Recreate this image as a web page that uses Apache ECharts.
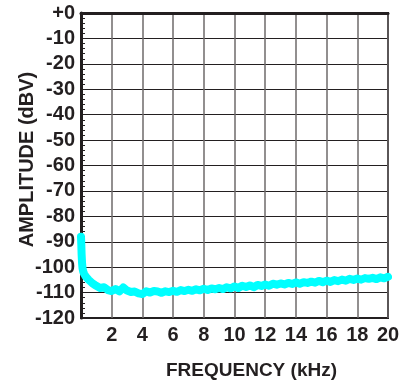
<!DOCTYPE html>
<html><head><meta charset="utf-8">
<script src="https://cdn.jsdelivr.net/npm/echarts@6/dist/echarts.min.js"></script>
<style>html,body{margin:0;padding:0;background:#fff}#c{width:405px;height:383px}</style>
</head><body><div id="c"></div>
<script>
const xTickValues = [0,2,4,6,8,10,12,14,16,18,20];
const yTickValues = [-120,-110,-100,-90,-80,-70,-60,-50,-40,-30,-20,-10,0];
const freqKHz = [0,0.02,0.04,0.07,0.1,0.15,0.2,0.3,0.4,0.5,0.6,0.75,0.9,
 1.0,1.25,1.5,1.75,2.0,2.25,2.5,2.75,3.0,3.25,3.5,3.75,4.0,4.25,4.5,4.75,5.0,
 5.25,5.5,5.75,6.0,6.25,6.5,6.75,7.0,7.25,7.5,7.75,8.0,8.25,8.5,8.75,9.0,
 9.25,9.5,9.75,10.0,10.25,10.5,10.75,11.0,11.25,11.5,11.75,12.0,12.25,12.5,
 12.75,13.0,13.25,13.5,13.75,14.0,14.25,14.5,14.75,15.0,15.25,15.5,15.75,16.0,
 16.25,16.5,16.75,17.0,17.25,17.5,17.75,18.0,18.25,18.5,18.75,19.0,19.25,19.5,19.75,20.0];
const amplitudeDBV = [-88,-91,-95,-98.5,-100.5,-101.8,-102.6,-103.6,-104.3,-105.0,-105.6,-106.4,-107.0,
 -107.3,-108.2,-107.9,-109.0,-109.4,-108.6,-109.5,-108.0,-109.2,-109.8,-109.6,-110.3,-110.6,-109.5,-110.0,-109.4,-109.6,
 -110.1,-109.5,-109.8,-109.3,-109.7,-109.0,-109.4,-108.9,-109.3,-108.7,-109.1,-108.5,-109.0,-108.4,-108.7,-108.2,
 -108.6,-107.9,-108.3,-107.6,-108.2,-107.3,-107.8,-107.2,-107.9,-107.0,-107.4,-106.8,-107.3,-106.5,
 -106.9,-106.4,-106.8,-106.2,-106.6,-106.0,-106.5,-105.9,-106.2,-105.7,-106.1,-105.4,-105.9,-105.3,
 -105.8,-105.1,-105.5,-104.9,-105.3,-104.6,-105.0,-104.5,-104.9,-104.3,-104.6,-104.2,-104.7,-104.0,-104.4,-103.8];

const chart = echarts.init(document.getElementById('c'));
const dark = '#231f20';
const font = 'Liberation Sans, Arial, sans-serif';
chart.setOption({
  animation: false,
  grid: {left: 81, right: 17, top: 13, bottom: 65, outerBoundsMode: 'none', containLabel: false,
    show: true, borderColor: dark, borderWidth: 2, backgroundColor: '#fff'},
  xAxis: {
    type: 'value', min: xTickValues[0], max: xTickValues[xTickValues.length-1], interval: 2,
    name: 'FREQUENCY (kHz)', nameLocation: 'middle', nameGap: 43, nameMoveOverlap: false,
    nameTextStyle: {fontFamily: font, fontWeight: 'bold', fontSize: 19, color: dark, padding: [0,0,0,34]},
    axisLine: {show: true, lineStyle: {color: dark, width: 3}},
    axisTick: {show: false},
    axisLabel: {fontFamily: font, fontWeight: 'bold', fontSize: 20, color: dark, margin: 7,
      formatter: v => v === 0 ? '' : String(v)},
    splitLine: {show: true, lineStyle: {color: '#6e6a6a', width: 1.5}}
  },
  yAxis: {
    type: 'value', min: yTickValues[0], max: yTickValues[yTickValues.length-1], interval: 10,
    name: 'AMPLITUDE (dBV)', nameLocation: 'middle', nameGap: 44, nameMoveOverlap: false,
    nameTextStyle: {fontFamily: font, fontWeight: 'bold', fontSize: 20, color: dark, padding: [0,0,0,12]},
    axisLine: {show: true, lineStyle: {color: dark, width: 3}},
    axisTick: {show: true, inside: true, length: 4, lineStyle: {color: dark, width: 1}},
    minorTick: {show: true, splitNumber: 5, length: 4, lineStyle: {color: dark, width: 1}},
    axisLabel: {fontFamily: font, fontWeight: 'bold', fontSize: 20, color: dark, margin: 6,
      formatter: v => v === 0 ? '+0' : String(v)},
    splitLine: {show: true, lineStyle: {color: dark, width: 1}}
  },
  series: [{
    type: 'line', data: freqKHz.map((f,i) => [f, amplitudeDBV[i]]),
    showSymbol: false, clip: true,
    lineStyle: {color: '#00ffff', width: 8, cap: 'round', join: 'round'}
  }]
});
</script></body></html>
